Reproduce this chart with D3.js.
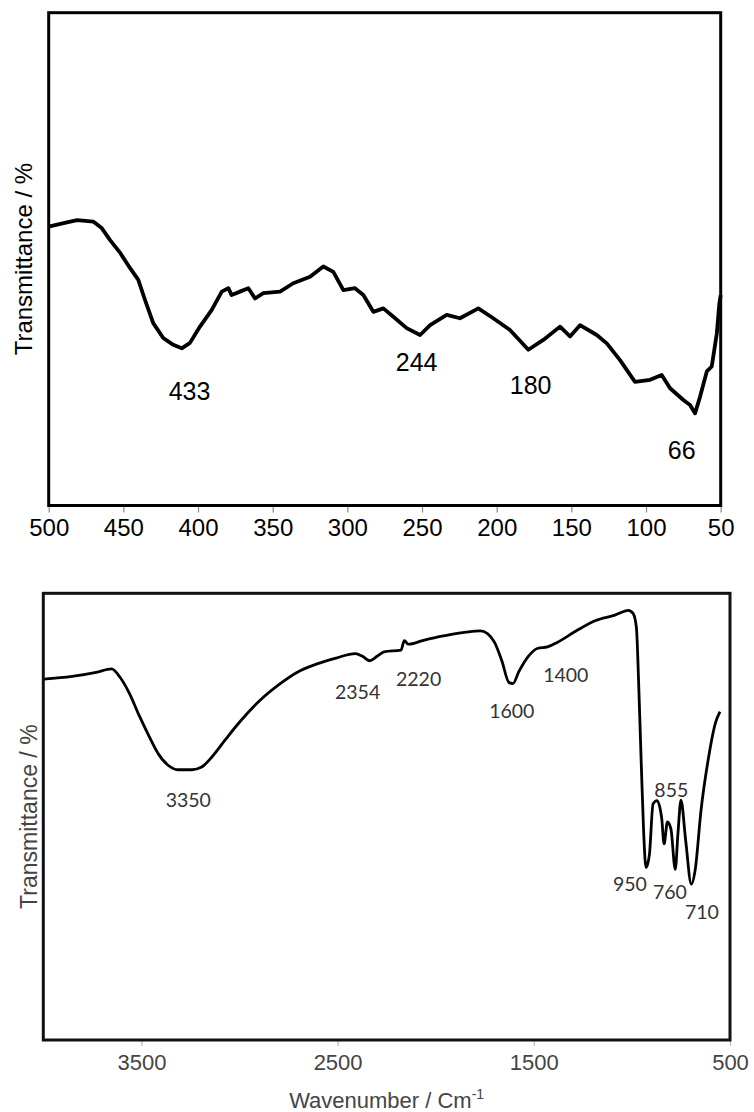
<!DOCTYPE html>
<html>
<head>
<meta charset="utf-8">
<script src="https://cdn.jsdelivr.net/npm/d3@7"></script>
<style>
	body { margin: 0; background: #fff; }
</style>
</head>
<body>
<div id="div"></div>
<script>
// far-IR spectrum (top panel)
let farWavenumber = [500, 490, 481, 470, 464.5, 459, 452, 445.6, 440, 435.5, 430, 423.3, 416.6, 410.9, 405.4, 398.7, 390.8, 384.1, 379.7, 377.5, 371.9, 366.3, 361.8, 356.3, 345.1, 336.2, 325, 316.1, 309.4, 302.7, 294.9, 289.3, 282.6, 275.9, 269.2, 260.3, 251.3, 244.6, 233.5, 224.6, 212.3, 202.3, 191.1, 178.8, 168.8, 157.6, 150.9, 144.2, 133, 126.3, 117.4, 107.4, 97.3, 89.5, 83.9, 75, 70.5, 67.2, 63.8, 59.3, 56, 52.6, 50.9, 50]
let farTransmittance = [56.6, 57.3, 57.9, 57.6, 56.3, 53.9, 51.2, 48.2, 45.8, 41.7, 37.0, 34.0, 32.6, 31.9, 33.0, 36.3, 39.7, 43.4, 44.1, 42.7, 43.4, 44.1, 42.0, 43.1, 43.4, 45.1, 46.4, 48.5, 47.4, 43.7, 44.1, 42.7, 39.3, 40.0, 38.3, 36.0, 34.6, 36.6, 38.7, 38.0, 40.0, 38.0, 35.6, 31.6, 33.6, 36.3, 34.3, 36.6, 34.6, 32.9, 29.5, 25.1, 25.5, 26.5, 23.8, 21.4, 20.4, 18.7, 22.1, 27.2, 28.2, 34.9, 41.0, 42.7]
let farTicks = [500, 450, 400, 350, 300, 250, 200, 150, 100, 50]
let farPeaks = ["433", "244", "180", "66"]
let farPeakX = [405.7, 253.6, 177.3, 76.1]
let farPeakY = [23.2, 29.2, 24.5, 11.3]

// mid-IR spectrum (bottom panel)
let midWavenumber = [4000, 3853, 3731, 3652, 3609, 3560, 3511, 3462, 3413, 3364, 3315, 3242, 3193, 3144, 3071, 2997, 2899, 2801, 2703, 2605, 2508, 2410, 2373, 2336, 2299, 2263, 2177, 2160, 2140, 2067, 1993, 1944, 1846, 1773, 1736, 1700, 1663, 1626, 1606, 1577, 1528, 1479, 1430, 1381, 1283, 1185, 1087, 1018, 994, 977, 965, 953, 940, 928, 911, 892, 872, 848, 836, 819, 801, 779, 765, 750, 726, 697, 677, 648, 611, 574, 551]
let midTransmittance = [80.8, 81.4, 82.3, 83.1, 81.2, 77.5, 72.6, 68.1, 64.0, 61.5, 60.5, 60.5, 61.1, 63.2, 67.3, 71.3, 75.9, 79.5, 82.4, 84.2, 85.5, 86.5, 85.9, 84.9, 85.9, 86.9, 87.3, 89.4, 88.6, 89.4, 90.2, 90.6, 91.3, 91.6, 91.0, 89.0, 84.9, 80.0, 79.8, 82.4, 85.9, 87.7, 88.0, 89.0, 91.6, 93.9, 95.1, 96.2, 95.5, 92.3, 79.1, 62.8, 46.4, 38.6, 41.4, 52.9, 53.6, 49.6, 43.9, 48.8, 47.2, 38.2, 46.4, 53.7, 44.7, 34.9, 38.2, 51.3, 62.8, 71.0, 73.5]
let midTicks = [3500, 2500, 1500, 500]
let midPeaks = ["3350", "2354", "2220", "1600", "1400", "855", "950", "760", "710"]
let midPeakX = [3261, 2398, 2087, 1612, 1337, 799, 1010, 806, 643]
let midPeakY = [53.7, 77.9, 80.8, 73.6, 81.6, 56.0, 35.0, 33.1, 28.7]

let w = 754, h = 1112,
	svg = d3.select("#div").append("svg")
		.attr("width", w)
		.attr("height", h)

let top1 = {left: 48.7, right: 720.7, top: 12.7, bottom: 505.5},
	bot1 = {left: 43.3, right: 730, top: 593.3, bottom: 1040}

// ---------- top panel ----------
let x1 = d3.scaleLinear().domain([500, 50]).range([top1.left, top1.right]),
	y1 = d3.scaleLinear().domain([0, 100]).range([top1.bottom, top1.top])

let farData = farWavenumber.map((d, i) => ({wn: d, t: farTransmittance[i]}))

let xAxis1 = d3.axisBottom(x1).tickValues(farTicks).tickFormat(d3.format("d")).tickSize(7).tickPadding(6)
let gx1 = svg.append("g")
	.attr("transform", "translate(0, " + top1.bottom + ")")
	.call(xAxis1)
gx1.select(".domain").remove()
gx1.selectAll("line").attr("stroke", "#888").attr("stroke-width", 1.2)
gx1.selectAll("text")
	.attr("font-family", "Liberation Sans, Arial, sans-serif")
	.attr("font-size", 24)
	.attr("fill", "#000")

svg.append("path")
	.datum(farData)
	.attr("fill", "none")
	.attr("stroke", "#000")
	.attr("stroke-width", 3.8)
	.attr("stroke-linejoin", "round")
	.attr("d", d3.line().x(d => x1(d.wn)).y(d => y1(d.t)))

svg.append("rect")
	.attr("x", top1.left)
	.attr("y", top1.top)
	.attr("width", top1.right - top1.left)
	.attr("height", top1.bottom - top1.top)
	.attr("fill", "none")
	.attr("stroke", "#000")
	.attr("stroke-width", 3)

svg.selectAll(".farPeak")
	.data(farPeaks)
	.enter()
	.append("text")
	.attr("class", "farPeak")
	.attr("x", (d, i) => x1(farPeakX[i]))
	.attr("y", (d, i) => y1(farPeakY[i]) + 9)
	.attr("text-anchor", "middle")
	.attr("font-family", "Liberation Sans, Arial, sans-serif")
	.attr("font-size", 25)
	.text(d => d)

svg.append("text")
	.attr("transform", "rotate(-90)")
	.attr("x", -(top1.top + top1.bottom) / 2)
	.attr("y", 32)
	.attr("text-anchor", "middle")
	.attr("font-family", "Liberation Sans, Arial, sans-serif")
	.attr("font-size", 24)
	.text("Transmittance / %")

// ---------- bottom panel ----------
let x2 = d3.scaleLinear().domain([4000, 500]).range([bot1.left, bot1.right]),
	y2 = d3.scaleLinear().domain([0, 100]).range([bot1.bottom, bot1.top])

let midData = midWavenumber.map((d, i) => ({wn: d, t: midTransmittance[i]}))

let xAxis2 = d3.axisBottom(x2).tickValues(midTicks).tickFormat(d3.format("d")).tickSize(6).tickPadding(8)
let gx2 = svg.append("g")
	.attr("transform", "translate(0, " + bot1.bottom + ")")
	.call(xAxis2)
gx2.select(".domain").remove()
gx2.selectAll("line").attr("stroke", "#bbb").attr("stroke-width", 1.2)
gx2.selectAll("text")
	.attr("font-family", "Liberation Sans, Arial, sans-serif")
	.attr("font-size", 22)
	.attr("fill", "#444")

svg.append("path")
	.datum(midData)
	.attr("fill", "none")
	.attr("stroke", "#000")
	.attr("stroke-width", 2.8)
	.attr("stroke-linejoin", "round")
	.attr("d", d3.line().curve(d3.curveMonotoneX).x(d => x2(d.wn)).y(d => y2(d.t)))

svg.append("rect")
	.attr("x", bot1.left)
	.attr("y", bot1.top)
	.attr("width", bot1.right - bot1.left)
	.attr("height", bot1.bottom - bot1.top)
	.attr("fill", "none")
	.attr("stroke", "#111")
	.attr("stroke-width", 3)

svg.selectAll(".midPeak")
	.data(midPeaks)
	.enter()
	.append("text")
	.attr("class", "midPeak")
	.attr("x", (d, i) => x2(midPeakX[i]))
	.attr("y", (d, i) => y2(midPeakY[i]) + 7)
	.attr("text-anchor", "middle")
	.attr("font-family", "Lato, Open Sans, sans-serif")
	.attr("font-size", 19.5)
	.attr("fill", "#333")
	.text(d => d)

svg.append("text")
	.attr("transform", "rotate(-90)")
	.attr("x", -(bot1.top + bot1.bottom) / 2)
	.attr("y", 37)
	.attr("text-anchor", "middle")
	.attr("font-family", "Liberation Sans, Arial, sans-serif")
	.attr("font-size", 23)
	.attr("fill", "#444")
	.text("Transmittance / %")

let xTitle = svg.append("text")
	.attr("x", (bot1.left + bot1.right) / 2)
	.attr("y", 1108)
	.attr("text-anchor", "middle")
	.attr("font-family", "Liberation Sans, Arial, sans-serif")
	.attr("font-size", 22)
	.attr("fill", "#444")
xTitle.append("tspan").text("Wavenumber / Cm")
xTitle.append("tspan").attr("font-size", 14).attr("dy", -9).text("-1")
</script>
</body>
</html>
